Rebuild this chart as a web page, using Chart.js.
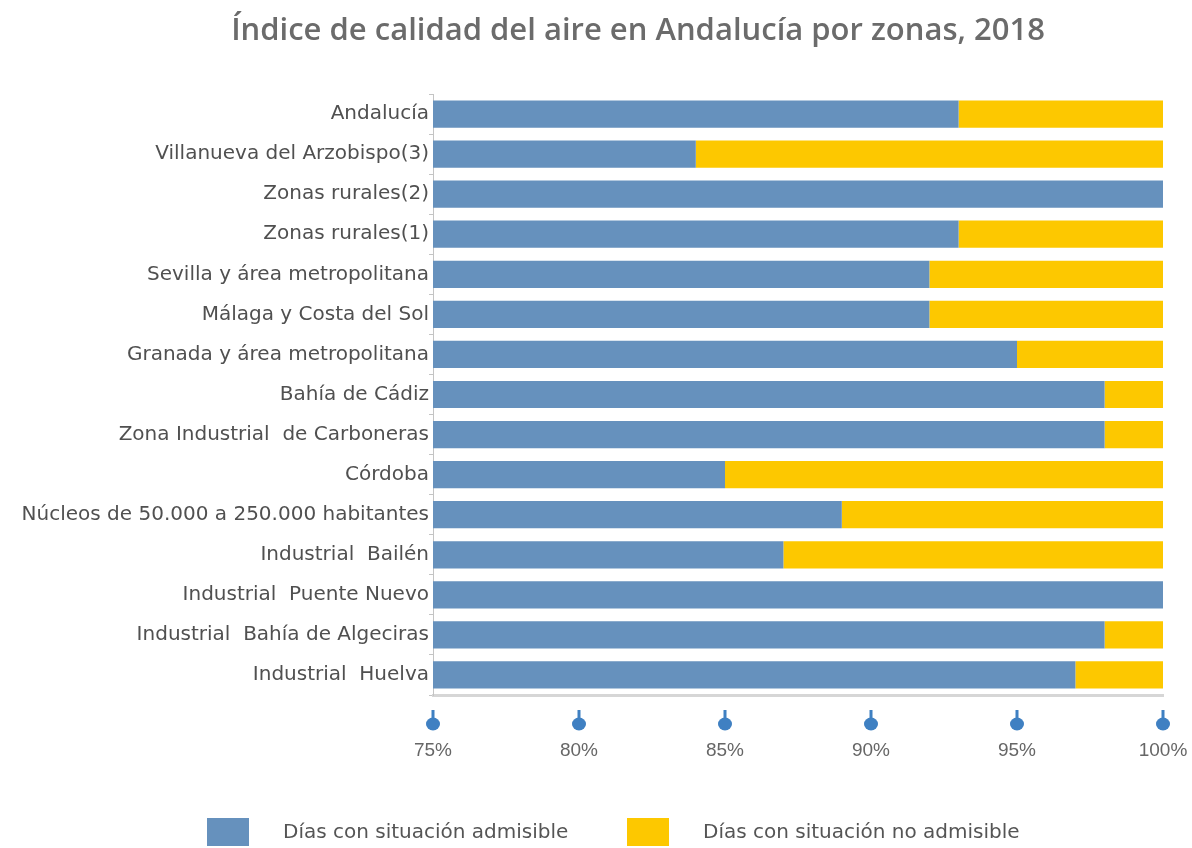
<!DOCTYPE html>
<html>
<head>
<meta charset="utf-8">
<script src="https://cdn.jsdelivr.net/npm/chart.js@4"></script>
<style>
  html, body { margin: 0; padding: 0; background: #fff; }
  #wrap { width: 1192px; height: 848px; }
</style>
</head>
<body>
<div id="wrap"><canvas id="myChart" width="1192" height="848"></canvas></div>
<script>
var titulo = "Índice de calidad del aire en Andalucía por zonas, 2018";
// zonas, de arriba abajo
var zonas = [
  "Andalucía",
  "Villanueva del Arzobispo(3)",
  "Zonas rurales(2)",
  "Zonas rurales(1)",
  "Sevilla y área metropolitana",
  "Málaga y Costa del Sol",
  "Granada y área metropolitana",
  "Bahía de Cádiz",
  "Zona Industrial  de Carboneras",
  "Córdoba",
  "Núcleos de 50.000 a 250.000 habitantes",
  "Industrial  Bailén",
  "Industrial  Puente Nuevo",
  "Industrial  Bahía de Algeciras",
  "Industrial  Huelva"
];
// % de días
var admisible = [93, 84, 100, 93, 92, 92, 95, 98, 98, 85, 89, 87, 100, 98, 97];
var noAdmisible = [7, 16, 0, 7, 8, 8, 5, 2, 2, 15, 11, 13, 0, 2, 3];
var xTicks = [75, 80, 85, 90, 95, 100];

var azul = "#6691bd";
var amarillo = "#fdc800";

// titulo centrado algo a la derecha, como en el original
var tituloPlugin = {
  id: "tituloPlugin",
  beforeDraw(chart) {
    var ctx = chart.ctx;
    ctx.save();
    ctx.fillStyle = "#6b6b6b";
    ctx.font = "600 31px 'Open Sans'";
    ctx.textAlign = "center";
    ctx.textBaseline = "middle";
    ctx.fillText(titulo, 638, 31);
    ctx.restore();
  }
};

// leyenda abajo, cuadros grandes
var leyenda = {
  id: "leyenda",
  afterDraw(chart) {
    var ctx = chart.ctx;
    var xs = [207, 627];
    ctx.save();
    ctx.font = "20px 'DejaVu Sans'";
    ctx.textBaseline = "middle";
    chart.data.datasets.forEach(function (ds, i) {
      ctx.fillStyle = ds.backgroundColor;
      ctx.fillRect(xs[i], 818, 42, 28);
      ctx.fillStyle = "#555";
      ctx.fillText(ds.label, xs[i] + 76, 833);
    });
    ctx.restore();
  }
};

// marcadores tipo gota bajo cada tick del eje x
var gotas = {
  id: "gotas",
  afterDraw(chart) {
    var ctx = chart.ctx;
    var x = chart.scales.x;
    var base = chart.chartArea.bottom;
    ctx.save();
    ctx.fillStyle = "#3f80c2";
    xTicks.forEach(function (v) {
      var px = x.getPixelForValue(v);
      ctx.fillRect(px - 1.5, base + 15, 3, 10);
      ctx.beginPath();
      ctx.ellipse(px, base + 29, 7, 6.5, 0, 0, Math.PI * 2);
      ctx.fill();
    });
    ctx.restore();
  }
};

new Chart("myChart", {
  type: "bar",
  data: {
    labels: zonas,
    datasets: [
      {
        label: "Días con situación admisible",
        data: admisible,
        backgroundColor: azul,
        barPercentage: 0.68,
        categoryPercentage: 1
      },
      {
        label: "Días con situación no admisible",
        data: noAdmisible,
        backgroundColor: amarillo,
        barPercentage: 0.68,
        categoryPercentage: 1
      }
    ]
  },
  options: {
    indexAxis: "y",
    responsive: false,
    animation: false,
    layout: { padding: { left: 8, right: 29, top: 94, bottom: 0 } },
    plugins: {
      title: { display: false },
      legend: { display: false },
      tooltip: { enabled: false }
    },
    scales: {
      x: {
        stacked: true,
        min: 75,
        max: 100,
        afterFit: function (s) {
          s.height = 153;
          s.paddingLeft = 0;
          s.paddingRight = 0;
        },
        afterBuildTicks: function (s) {
          s.ticks = xTicks.map(function (v) { return { value: v }; });
        },
        grid: { display: false, drawTicks: false },
        border: { display: true, color: "#d6d6d6", width: 3 },
        ticks: {
          padding: 44,
          color: "#666",
          font: { family: "Liberation Sans", size: 19 },
          callback: function (v) { return v + "%"; }
        }
      },
      y: {
        stacked: true,
        afterFit: function (s) { s.width = 425; },
        grid: {
          offset: true,
          drawOnChartArea: false,
          tickLength: 4,
          color: "#c4c4c4"
        },
        border: { display: true, color: "#c4c4c4" },
        ticks: {
          padding: 0,
          color: "#505050",
          font: { family: "DejaVu Sans", size: 20 }
        }
      }
    }
  },
  plugins: [tituloPlugin, gotas, leyenda]
});
</script>
</body>
</html>
